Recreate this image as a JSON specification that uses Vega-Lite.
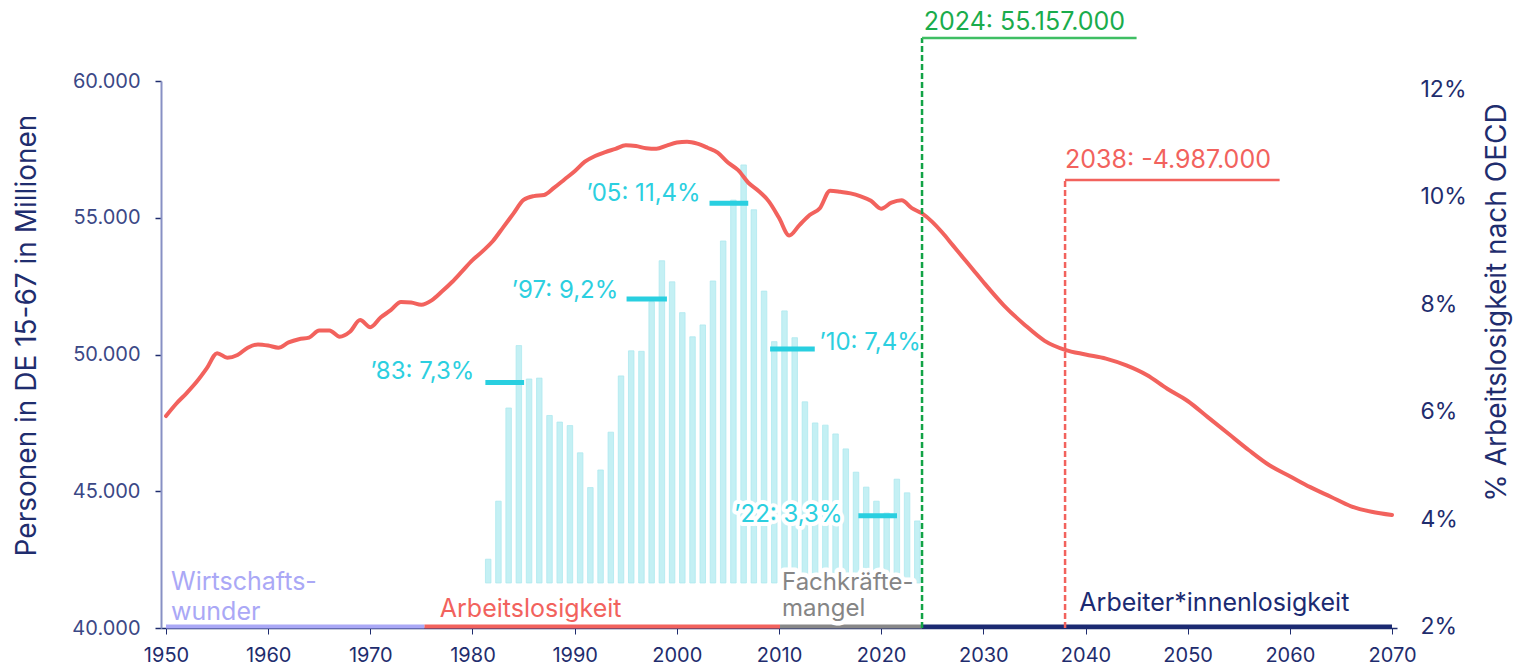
{
  "$schema": "https://vega.github.io/schema/vega-lite/v6.json",
  "width": 1236,
  "height": 547,
  "autosize": "none",
  "padding": {"left": 161, "top": 81, "right": 120, "bottom": 39},
  "background": "white",
  "config": {
    "view": {"stroke": null},
    "font": "Inter",
    "axis": {"grid": false, "labelFont": "Inter", "titleFont": "Inter"}
  },
  "datasets": {
    "quote": [
      {"jahr": 1980, "quote": 2.43}, {"jahr": 1981, "quote": 3.75}, {"jahr": 1982, "quote": 5.87},
      {"jahr": 1983, "quote": 7.29}, {"jahr": 1984, "quote": 6.53}, {"jahr": 1985, "quote": 6.55},
      {"jahr": 1986, "quote": 5.70}, {"jahr": 1987, "quote": 5.55}, {"jahr": 1988, "quote": 5.47},
      {"jahr": 1989, "quote": 4.85}, {"jahr": 1990, "quote": 4.06}, {"jahr": 1991, "quote": 4.46},
      {"jahr": 1992, "quote": 5.32}, {"jahr": 1993, "quote": 6.60}, {"jahr": 1994, "quote": 7.17},
      {"jahr": 1995, "quote": 7.16}, {"jahr": 1996, "quote": 8.29}, {"jahr": 1997, "quote": 9.22},
      {"jahr": 1998, "quote": 8.74}, {"jahr": 1999, "quote": 8.04}, {"jahr": 2000, "quote": 7.49},
      {"jahr": 2001, "quote": 7.76}, {"jahr": 2002, "quote": 8.76}, {"jahr": 2003, "quote": 9.67},
      {"jahr": 2004, "quote": 10.60}, {"jahr": 2005, "quote": 11.40}, {"jahr": 2006, "quote": 10.38},
      {"jahr": 2007, "quote": 8.53}, {"jahr": 2008, "quote": 7.38}, {"jahr": 2009, "quote": 8.08},
      {"jahr": 2010, "quote": 7.47}, {"jahr": 2011, "quote": 6.01}, {"jahr": 2012, "quote": 5.53},
      {"jahr": 2013, "quote": 5.48}, {"jahr": 2014, "quote": 5.28}, {"jahr": 2015, "quote": 4.94},
      {"jahr": 2016, "quote": 4.41}, {"jahr": 2017, "quote": 4.07}, {"jahr": 2018, "quote": 3.75},
      {"jahr": 2019, "quote": 3.48}, {"jahr": 2020, "quote": 4.25}, {"jahr": 2021, "quote": 3.94},
      {"jahr": 2022, "quote": 3.30}
    ],
    "bevoelkerung": [
      {"jahr": 1950, "bev": 47750}, {"jahr": 1951, "bev": 48200}, {"jahr": 1952, "bev": 48580},
      {"jahr": 1953, "bev": 49000}, {"jahr": 1954, "bev": 49500}, {"jahr": 1955, "bev": 50050},
      {"jahr": 1956, "bev": 49880}, {"jahr": 1957, "bev": 49980}, {"jahr": 1958, "bev": 50250},
      {"jahr": 1959, "bev": 50370}, {"jahr": 1960, "bev": 50330}, {"jahr": 1961, "bev": 50250},
      {"jahr": 1962, "bev": 50440}, {"jahr": 1963, "bev": 50560}, {"jahr": 1964, "bev": 50620},
      {"jahr": 1965, "bev": 50880}, {"jahr": 1966, "bev": 50880}, {"jahr": 1967, "bev": 50650},
      {"jahr": 1968, "bev": 50830}, {"jahr": 1969, "bev": 51260}, {"jahr": 1970, "bev": 51000},
      {"jahr": 1971, "bev": 51350}, {"jahr": 1972, "bev": 51620}, {"jahr": 1973, "bev": 51920},
      {"jahr": 1974, "bev": 51900}, {"jahr": 1975, "bev": 51820}, {"jahr": 1976, "bev": 51980},
      {"jahr": 1977, "bev": 52300}, {"jahr": 1978, "bev": 52650}, {"jahr": 1979, "bev": 53050},
      {"jahr": 1980, "bev": 53450}, {"jahr": 1981, "bev": 53780}, {"jahr": 1982, "bev": 54150},
      {"jahr": 1983, "bev": 54650}, {"jahr": 1984, "bev": 55150}, {"jahr": 1985, "bev": 55650},
      {"jahr": 1986, "bev": 55790}, {"jahr": 1987, "bev": 55830}, {"jahr": 1988, "bev": 56100},
      {"jahr": 1989, "bev": 56400}, {"jahr": 1990, "bev": 56700}, {"jahr": 1991, "bev": 57050},
      {"jahr": 1992, "bev": 57260}, {"jahr": 1993, "bev": 57400}, {"jahr": 1994, "bev": 57520},
      {"jahr": 1995, "bev": 57650}, {"jahr": 1996, "bev": 57620}, {"jahr": 1997, "bev": 57540},
      {"jahr": 1998, "bev": 57520}, {"jahr": 1999, "bev": 57640}, {"jahr": 2000, "bev": 57750},
      {"jahr": 2001, "bev": 57780}, {"jahr": 2002, "bev": 57710}, {"jahr": 2003, "bev": 57560},
      {"jahr": 2004, "bev": 57380}, {"jahr": 2005, "bev": 57020}, {"jahr": 2006, "bev": 56740},
      {"jahr": 2007, "bev": 56280}, {"jahr": 2008, "bev": 55980}, {"jahr": 2009, "bev": 55600},
      {"jahr": 2010, "bev": 55000}, {"jahr": 2011, "bev": 54350}, {"jahr": 2012, "bev": 54730},
      {"jahr": 2013, "bev": 55100}, {"jahr": 2014, "bev": 55350}, {"jahr": 2015, "bev": 55990},
      {"jahr": 2016, "bev": 55950}, {"jahr": 2017, "bev": 55890}, {"jahr": 2018, "bev": 55780},
      {"jahr": 2019, "bev": 55620}, {"jahr": 2020, "bev": 55330}, {"jahr": 2021, "bev": 55550},
      {"jahr": 2022, "bev": 55640}, {"jahr": 2023, "bev": 55350}, {"jahr": 2024, "bev": 55157},
      {"jahr": 2025, "bev": 54850}, {"jahr": 2026, "bev": 54450}, {"jahr": 2027, "bev": 54000},
      {"jahr": 2028, "bev": 53550}, {"jahr": 2029, "bev": 53100}, {"jahr": 2030, "bev": 52650},
      {"jahr": 2032, "bev": 51800}, {"jahr": 2034, "bev": 51100}, {"jahr": 2036, "bev": 50500},
      {"jahr": 2038, "bev": 50170}, {"jahr": 2040, "bev": 50000}, {"jahr": 2042, "bev": 49850},
      {"jahr": 2044, "bev": 49600}, {"jahr": 2046, "bev": 49250}, {"jahr": 2048, "bev": 48750},
      {"jahr": 2050, "bev": 48300}, {"jahr": 2052, "bev": 47700}, {"jahr": 2054, "bev": 47100},
      {"jahr": 2056, "bev": 46500}, {"jahr": 2058, "bev": 45950}, {"jahr": 2060, "bev": 45550},
      {"jahr": 2062, "bev": 45150}, {"jahr": 2064, "bev": 44800}, {"jahr": 2066, "bev": 44450},
      {"jahr": 2068, "bev": 44250}, {"jahr": 2070, "bev": 44130}
    ],
    "marker": [
      {"jahr": 1981.26, "jahr2": 1985.05, "wert": 6.45},
      {"jahr": 1995.08, "jahr2": 1999.03, "wert": 8.35},
      {"jahr": 2003.2, "jahr2": 2006.99, "wert": 10.53},
      {"jahr": 2009.13, "jahr2": 2013.5, "wert": 7.21},
      {"jahr": 2017.77, "jahr2": 2021.55, "wert": 3.42}
    ],
    "markerText": [
      {"jahr": 1980.19, "wert": 6.69, "text": "’83: 7,3%"},
      {"jahr": 1994.27, "wert": 8.53, "text": "’97: 9,2%"},
      {"jahr": 2002.33, "wert": 10.74, "text": "’05: 11,4%"},
      {"jahr": 2023.88, "wert": 7.35, "text": "’10: 7,4%"},
      {"jahr": 2016.21, "wert": 3.44, "text": "’22: 3,3%"}
    ],
    "phasen": [
      {"jahr": 1950, "jahr2": 1975.3, "phase": "Wirtschaftswunder"},
      {"jahr": 1975.3, "jahr2": 2010.1, "phase": "Arbeitslosigkeit"},
      {"jahr": 2010.1, "jahr2": 2024, "phase": "Fachkräftemangel"},
      {"jahr": 2024, "jahr2": 2070, "phase": "Arbeiter*innenlosigkeit"}
    ],
    "phasenText": [
      {"jahr": 1950.5, "wert": 41389, "text": "Wirtschafts-\nwunder", "phase": "Wirtschaftswunder"},
      {"jahr": 1976.8, "wert": 40402, "text": "Arbeitslosigkeit", "phase": "Arbeitslosigkeit"},
      {"jahr": 2039.4, "wert": 40622, "text": "Arbeiter*innenlosigkeit", "phase": "Arbeiter*innenlosigkeit"}
    ]
  },
  "encoding": {
    "x": {
      "field": "jahr",
      "type": "quantitative",
      "scale": {"domain": [1950, 2070], "nice": false, "zero": false},
      "axis": {
        "values": [1950, 1960, 1970, 1980, 1990, 2000, 2010, 2020, 2030, 2040, 2050, 2060, 2070],
        "format": "d",
        "title": null,
        "labelFontSize": 20,
        "labelColor": "#1f2d6e",
        "labelFlush": false,
        "labelPadding": 11,
        "domainColor": "#1f2d6e",
        "domainWidth": 1.5,
        "tickColor": "#1f2d6e",
        "tickSize": 6,
        "grid": false
      }
    }
  },
  "layer": [
    {
      "data": {"name": "quote"},
      "mark": {"type": "bar", "width": 5.5, "xOffset": 15.7, "fill": "#c4f0f4", "stroke": "#afe9ef", "strokeWidth": 0.8},
      "encoding": {
        "y": {"field": "quote", "type": "quantitative", "scale": {"domain": [0.865, 13.31], "nice": false, "zero": false}, "axis": null},
        "y2": {"datum": 1.89}
      }
    },
    {
      "data": {"name": "marker"},
      "mark": {"type": "rule", "stroke": "#29cfe0", "strokeWidth": 5},
      "encoding": {
        "x2": {"field": "jahr2"},
        "y": {"field": "wert", "type": "quantitative", "scale": {"domain": [0.865, 13.31], "nice": false, "zero": false}, "axis": null}
      }
    },
    {
      "data": {"name": "markerText"},
      "transform": [{"filter": "datum.jahr > 2015 && datum.jahr < 2020"}],
      "mark": {"type": "text", "align": "right", "baseline": "middle", "fontSize": 24, "stroke": "white", "strokeWidth": 8, "fill": "white", "strokeJoin": "round"},
      "encoding": {
        "y": {"field": "wert", "type": "quantitative", "scale": {"domain": [0.865, 13.31], "nice": false, "zero": false}, "axis": null},
        "text": {"field": "text"}
      }
    },
    {
      "data": {"name": "markerText"},
      "mark": {"type": "text", "align": "right", "baseline": "middle", "fontSize": 24, "fill": "#2ccfe0"},
      "encoding": {
        "y": {"field": "wert", "type": "quantitative", "scale": {"domain": [0.865, 13.31], "nice": false, "zero": false}, "axis": null},
        "text": {"field": "text"}
      }
    },
    {
      "data": {"values": [{"jahr": 1950, "pct": 2}, {"jahr": 2070, "pct": 12}]},
      "mark": {"type": "point", "opacity": 0},
      "encoding": {
        "y": {
          "field": "pct",
          "type": "quantitative",
          "scale": {"domain": [1.98, 12.15], "nice": false, "zero": false},
          "axis": {
            "orient": "right",
            "values": [2, 4, 6, 8, 10, 12],
            "labelExpr": "datum.value + '%'",
            "domain": false,
            "ticks": false,
            "labelPadding": 23,
            "labelFontSize": 23,
            "labelColor": "#1f2d6e",
            "labelFlush": false,
            "title": "% Arbeitslosigkeit nach OECD",
            "titleFontSize": 28,
            "titleFontWeight": "normal",
            "titleColor": "#1f2d6e",
            "titleAngle": 270,
            "titleX": 100,
            "titleY": 221,
            "titleAlign": "center",
            "titleBaseline": "middle",
            "grid": false
          }
        }
      }
    },
    {
      "data": {"name": "phasen"},
      "mark": {"type": "rule", "strokeWidth": 4, "yOffset": -1.5},
      "encoding": {
        "x2": {"field": "jahr2"},
        "y": {"datum": 40000, "type": "quantitative", "scale": {"domain": [40000, 60000], "nice": false, "zero": false}, "axis": null},
        "color": {"field": "phase", "type": "nominal", "legend": null,
          "scale": {"domain": ["Wirtschaftswunder", "Arbeitslosigkeit", "Fachkräftemangel", "Arbeiter*innenlosigkeit"],
                    "range": ["#aaa8f6", "#f2625d", "#888888", "#1b2a72"]}}
      }
    },
    {
      "data": {"name": "phasenText"},
      "mark": {"type": "text", "align": "left", "baseline": "alphabetic", "fontSize": 25, "lineBreak": "\n", "lineHeight": 30},
      "encoding": {
        "y": {"field": "wert", "type": "quantitative", "scale": {"domain": [40000, 60000], "nice": false, "zero": false}, "axis": null},
        "text": {"field": "text"},
        "color": {"field": "phase", "type": "nominal", "legend": null,
          "scale": {"domain": ["Wirtschaftswunder", "Arbeitslosigkeit", "Fachkräftemangel", "Arbeiter*innenlosigkeit"],
                    "range": ["#aaa8f6", "#f2625d", "#888888", "#1b2a72"]}}
      }
    },
    {
      "data": {"values": [{"jahr": 2010.3, "wert": 41389, "text": "Fachkräfte-\nmangel"}]},
      "mark": {"type": "text", "align": "left", "baseline": "alphabetic", "fontSize": 24, "lineBreak": "\n", "lineHeight": 26, "fill": "white", "stroke": "white", "strokeWidth": 9, "strokeJoin": "round"},
      "encoding": {
        "y": {"field": "wert", "type": "quantitative", "scale": {"domain": [40000, 60000], "nice": false, "zero": false}, "axis": null},
        "text": {"field": "text"}
      }
    },
    {
      "data": {"values": [{"jahr": 2010.3, "wert": 41389, "text": "Fachkräfte-\nmangel"}]},
      "mark": {"type": "text", "align": "left", "baseline": "alphabetic", "fontSize": 24, "lineBreak": "\n", "lineHeight": 26, "fill": "#858585"},
      "encoding": {
        "y": {"field": "wert", "type": "quantitative", "scale": {"domain": [40000, 60000], "nice": false, "zero": false}, "axis": null},
        "text": {"field": "text"}
      }
    },
    {
      "data": {"name": "bevoelkerung"},
      "mark": {"type": "line", "stroke": "#f2625d", "strokeWidth": 4, "interpolate": "monotone", "strokeCap": "round"},
      "encoding": {
        "y": {
          "field": "bev",
          "type": "quantitative",
          "scale": {"domain": [40000, 60000], "nice": false, "zero": false},
          "axis": {
            "orient": "left",
            "values": [40000, 45000, 50000, 55000, 60000],
            "labelExpr": "replace(format(datum.value, ','), ',', '.')",
            "labelFontSize": 20,
            "labelColor": "#3b4886",
            "labelPadding": 15,
            "labelFlush": false,
            "domainColor": "#8790c4",
            "domainWidth": 2,
            "tickColor": "#1f2d6e",
            "tickSize": 6,
            "tickWidth": 1.5,
            "title": "Personen in DE 15-67 in Millionen",
            "titleFontSize": 28,
            "titleFontWeight": "normal",
            "titleColor": "#1f2d6e",
            "titleAngle": 270,
            "titleX": -134,
            "titleY": 254,
            "titleAlign": "center",
            "titleBaseline": "middle",
            "grid": false
          }
        }
      }
    },
    {
      "data": {"values": [
        {"jahr": 2024, "wert": 40000, "wert2": 61572, "marke": "2024"},
        {"jahr": 2038, "wert": 40000, "wert2": 56380, "marke": "2038"}
      ]},
      "mark": {"type": "rule", "strokeWidth": 2.5, "strokeDash": [6, 3]},
      "encoding": {
        "y": {"field": "wert", "type": "quantitative", "scale": {"domain": [40000, 60000], "nice": false, "zero": false}, "axis": null},
        "y2": {"field": "wert2"},
        "color": {"field": "marke", "type": "nominal", "legend": null, "scale": {"domain": ["2024", "2038"], "range": ["#12a346", "#f2625d"]}}
      }
    },
    {
      "data": {"values": [
        {"jahr": 2024, "jahr2": 2045, "wert": 61572, "marke": "2024"},
        {"jahr": 2038, "jahr2": 2059, "wert": 56380, "marke": "2038"}
      ]},
      "mark": {"type": "rule", "strokeWidth": 2.5},
      "encoding": {
        "x2": {"field": "jahr2"},
        "y": {"field": "wert", "type": "quantitative", "scale": {"domain": [40000, 60000], "nice": false, "zero": false}, "axis": null},
        "color": {"field": "marke", "type": "nominal", "legend": null, "scale": {"domain": ["2024", "2038"], "range": ["#3fbe63", "#f2625d"]}}
      }
    },
    {
      "data": {"values": [
        {"jahr": 2024.17, "wert": 61865, "text": "2024: 55.157.000", "marke": "2024"},
        {"jahr": 2038, "wert": 56819, "text": "2038: -4.987.000", "marke": "2038"}
      ]},
      "mark": {"type": "text", "align": "left", "baseline": "alphabetic", "fontSize": 25},
      "encoding": {
        "y": {"field": "wert", "type": "quantitative", "scale": {"domain": [40000, 60000], "nice": false, "zero": false}, "axis": null},
        "text": {"field": "text"},
        "color": {"field": "marke", "type": "nominal", "legend": null, "scale": {"domain": ["2024", "2038"], "range": ["#1aac4c", "#f2625d"]}}
      }
    }
  ],
  "resolve": {"scale": {"y": "independent", "color": "independent"}}
}
